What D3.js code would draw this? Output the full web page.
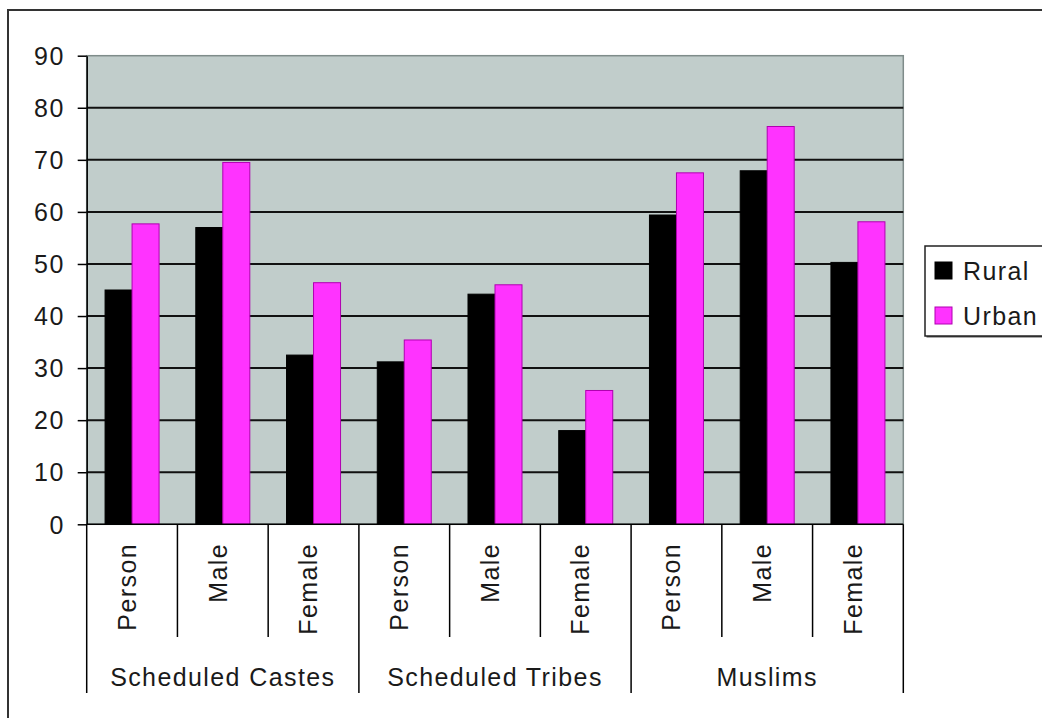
<!DOCTYPE html>
<html lang="en">
<head>
    <meta charset="UTF-8">
    <title>Rural / Urban by Group</title>
    <style>
        body { margin: 0; background: #fff; }
        svg text {
            font-family: "Liberation Sans", Arial, sans-serif;
            font-size: 25px;
            letter-spacing: 1.4px;
            fill: #1a1a1a;
        }
        .axis path, .axis line { stroke: #000; stroke-width: 1.5; }
    </style>
</head>
<body>
    <svg width="1042" height="718"></svg>

    <script src="https://d3js.org/d3.v7.min.js"></script>
    <script>
        // data
        const groups = ["Scheduled Castes", "Scheduled Tribes", "Muslims"];
        const subgroups = ["Person", "Male", "Female"];
        const series = ["Rural", "Urban"];
        const rural = [45.0, 57.0, 32.5, 31.2, 44.2, 18.0, 59.4, 67.9, 50.3];
        const urban = [57.7, 69.5, 46.4, 35.4, 46.0, 25.7, 67.5, 76.4, 58.1];
        const yTicks = [0, 10, 20, 30, 40, 50, 60, 70, 80, 90];

        const categories = [];
        groups.forEach(g => subgroups.forEach(s => categories.push({ group: g, sub: s })));
        const rows = categories.map((c, i) => ({ key: i, group: c.group, sub: c.sub, Rural: rural[i], Urban: urban[i] }));

        const plot = { left: 86.7, right: 903.3, top: 55.7, bottom: 524.3 };

        const svg = d3.select("svg");

        // outer chart border
        svg.append("rect")
            .attr("x", 8).attr("y", 10)
            .attr("width", 1050).attr("height", 720)
            .attr("fill", "none")
            .attr("stroke", "#333")
            .attr("stroke-width", 2);

        const x0 = d3.scaleBand()
            .domain(rows.map(d => d.key))
            .range([plot.left, plot.right]);

        const x1 = d3.scaleBand()
            .domain(series)
            .range([0, x0.bandwidth()])
            .paddingOuter(0.68);

        const y = d3.scaleLinear()
            .domain([0, 90])
            .range([plot.bottom, plot.top]);

        const color = d3.scaleOrdinal().domain(series).range(["#000000", "#ff33ff"]);
        const edge = d3.scaleOrdinal().domain(series).range(["#000000", "#b000b0"]);

        // plot background
        svg.append("rect")
            .attr("x", plot.left).attr("y", plot.top)
            .attr("width", plot.right - plot.left)
            .attr("height", plot.bottom - plot.top)
            .attr("fill", "#c1cdcb")
            .attr("stroke", "#7f8c8a")
            .attr("stroke-width", 1.5);

        // gridlines
        svg.append("g")
            .selectAll("line")
            .data(yTicks.filter(t => t > 0 && t < 90))
            .enter().append("line")
            .attr("x1", plot.left).attr("x2", plot.right)
            .attr("y1", d => y(d)).attr("y2", d => y(d))
            .attr("stroke", "#111")
            .attr("stroke-width", 2);

        // bars
        svg.append("g")
            .selectAll("g")
            .data(rows)
            .enter().append("g")
            .attr("transform", d => `translate(${x0(d.key)},0)`)
            .selectAll("rect")
            .data(d => series.map(s => ({ s: s, v: d[s] })))
            .enter().append("rect")
            .attr("x", d => x1(d.s))
            .attr("width", x1.bandwidth())
            .attr("y", d => y(d.v))
            .attr("height", d => y(0) - y(d.v))
            .attr("fill", d => color(d.s))
            .attr("stroke", d => edge(d.s))
            .attr("stroke-width", 1);

        // y axis
        const yAxis = svg.append("g")
            .attr("class", "axis")
            .attr("transform", `translate(${plot.left},0)`)
            .call(d3.axisLeft(y).tickValues(yTicks).tickSize(9).tickPadding(13).tickSizeOuter(0));
        yAxis.select(".domain").attr("stroke", "#000");
        yAxis.selectAll("text").attr("dy", "0.35em");

        // x axis line
        svg.append("line")
            .attr("x1", plot.left).attr("x2", plot.right)
            .attr("y1", plot.bottom).attr("y2", plot.bottom)
            .attr("stroke", "#000").attr("stroke-width", 1.5);

        // category separators
        const bounds = d3.range(rows.length + 1);
        svg.append("g")
            .selectAll("line")
            .data(bounds)
            .enter().append("line")
            .attr("x1", i => plot.left + i * x0.step())
            .attr("x2", i => plot.left + i * x0.step())
            .attr("y1", plot.bottom)
            .attr("y2", i => i % 3 === 0 ? 693 : 637)
            .attr("stroke", "#000")
            .attr("stroke-width", 1.5);

        // rotated sub labels
        svg.append("g")
            .selectAll("text")
            .data(rows)
            .enter().append("text")
            .attr("transform", d => `translate(${x0(d.key) + x0.bandwidth() / 2 - 5},543) rotate(-90)`)
            .attr("dy", "0.35em")
            .style("text-anchor", "end")
            .text(d => d.sub);

        // group labels
        svg.append("g")
            .selectAll("text")
            .data(groups)
            .enter().append("text")
            .attr("x", (g, i) => plot.left + (i * 3 + 1.5) * x0.step())
            .attr("y", 686)
            .style("text-anchor", "middle")
            .text(d => d);

        // legend
        const legend = svg.append("g").attr("transform", "translate(925,246)");
        legend.append("rect")
            .attr("x", 1.5).attr("y", 1.5)
            .attr("width", 130).attr("height", 90)
            .attr("fill", "#555");
        legend.append("rect")
            .attr("width", 130).attr("height", 90)
            .attr("fill", "#fff")
            .attr("stroke", "#222")
            .attr("stroke-width", 1.5);

        const item = legend.selectAll(".item")
            .data(series)
            .enter().append("g")
            .attr("class", "item")
            .attr("transform", (d, i) => `translate(0,${16 + i * 45})`);

        item.append("rect")
            .attr("x", 10).attr("width", 17).attr("height", 17)
            .attr("fill", color)
            .attr("stroke", edge)
            .attr("stroke-width", 1);

        item.append("text")
            .attr("x", 38).attr("y", 18)
            .text(d => d);
    </script>
</body>
</html>
